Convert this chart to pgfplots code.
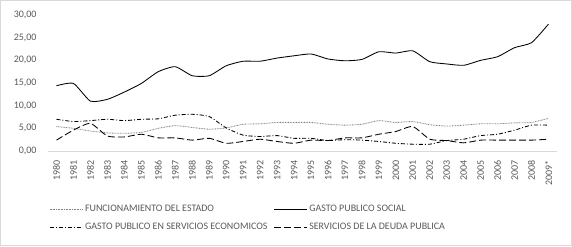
\documentclass[border=0pt]{standalone}
\usepackage{fontspec}
\setmainfont{Carlito}
\usepackage{pgfplots}
\pgfplotsset{compat=1.18}
\usepackage{pgfplotstable}
\definecolor{txt}{HTML}{595959}
\definecolor{axl}{HTML}{D9D9D9}
\pgfplotstableread{
x func social econ deuda
0 5.4 14.4 7.0 2.4
1 5.0 14.9 6.5 4.6
2 4.4 11.0 6.7 6.1
3 4.0 11.4 7.0 3.3
4 3.9 13.0 6.7 3.1
5 4.1 14.9 7.0 3.7
6 5.0 17.5 7.1 2.9
7 5.6 18.6 7.9 2.9
8 5.2 16.6 8.1 2.4
9 4.8 16.6 7.6 2.8
10 5.1 18.8 5.1 1.7
11 5.9 19.8 3.5 2.1
12 6.0 19.8 3.2 2.6
13 6.3 20.5 3.4 2.1
14 6.3 21.0 2.8 1.7
15 6.3 21.4 2.8 2.4
16 5.9 20.3 2.3 2.3
17 5.7 19.9 2.5 2.9
18 5.9 20.2 2.4 2.9
19 6.7 21.9 2.1 3.7
20 6.3 21.6 1.7 4.3
21 6.5 22.1 1.5 5.4
22 5.8 19.7 1.5 2.6
23 5.5 19.2 2.3 2.3
24 5.7 18.9 2.6 1.8
25 6.0 20.0 3.4 2.4
26 6.0 20.8 3.7 2.4
27 6.2 22.8 4.6 2.4
28 6.3 23.9 5.7 2.4
29 7.2 28.0 5.7 2.6
}\datatab
\begin{document}
\begin{tikzpicture}[x=1bp,y=1bp]
\useasboundingbox (0,0) rectangle (572,246);
\draw[axl,line width=0.75bp] (0.5,0.5) rectangle (571.5,245.5);
\begin{axis}[
  at={(48bp,95bp)}, anchor=south west,
  scale only axis, width=509bp, height=136bp,
  xmin=-0.5, xmax=29.5, ymin=0, ymax=30,
  xtick={0,...,29},
  xticklabels={1980,1981,1982,1983,1984,1985,1986,1987,1988,1989,1990,1991,1992,1993,1994,1995,1996,1997,1998,1999,2000,2001,2002,2003,2004,2005,2006,2007,2008,2009*},
  ytick={0,5,10,15,20,25,30},
  xticklabel shift=6bp,
  yticklabel shift=8bp,
  x tick label style={rotate=90, anchor=east, font=\fontsize{10}{12}\selectfont, text=txt},
  y tick label style={font=\fontsize{10}{12}\selectfont, text=txt},
  yticklabel style={/pgf/number format/.cd, fixed, fixed zerofill, precision=2, use comma, assume math mode=true},
  major tick length=0pt,
  axis lines*=left,
  x axis line style={draw=axl, line width=0.75bp, -},
  y axis line style={draw=none},
  clip=false,
  legend columns=2,
  legend cell align=left,
  legend style={at={(axis description cs:0,0)}, anchor=north west, xshift=-2bp, yshift=-50bp,
    draw=none, fill=none, font=\fontsize{10}{12}\selectfont, text=txt,
    /tikz/every even column/.append style={column sep=4bp},
    row sep=6bp},
  legend image code/.code={\draw[#1] (0bp,0bp) -- (33bp,0bp);},
  every axis plot/.append style={line width=0.85bp, smooth, tension=0.35},
]
\addplot[gray, dash pattern=on 0.8bp off 0.8bp] table[x=x,y=func] {\datatab};
\addlegendentry{FUNCIONAMIENTO DEL ESTADO}
\addplot[black] table[x=x,y=social] {\datatab};
\addlegendentry{GASTO PUBLICO SOCIAL}
\addplot[black, dash pattern=on 4bp off 2bp on 1bp off 2bp] table[x=x,y=econ] {\datatab};
\addlegendentry{GASTO PUBLICO EN SERVICIOS ECONOMICOS}
\addplot[black, dash pattern=on 7bp off 3bp] table[x=x,y=deuda] {\datatab};
\addlegendentry{SERVICIOS DE LA DEUDA PUBLICA}
\end{axis}
\end{tikzpicture}
\end{document}
